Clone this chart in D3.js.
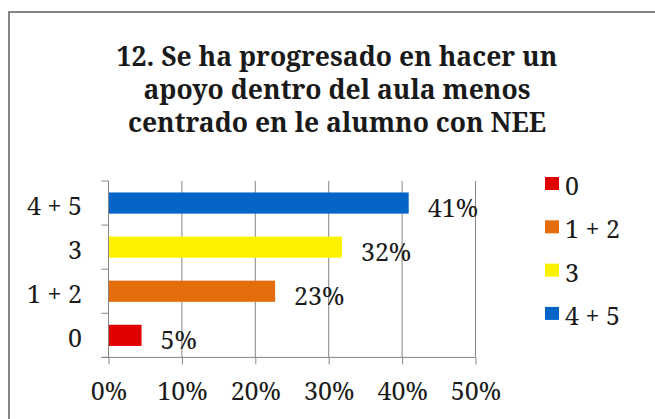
<!DOCTYPE html>
<html>
<head>
<meta charset="utf-8">
<script src="https://cdn.jsdelivr.net/npm/d3@7"></script>
<style>
  html, body { margin: 0; padding: 0; background: #fff; overflow: hidden; }
  svg { display: block; }
</style>
</head>
<body>
<svg id="chart" width="655" height="419" font-family="Noto Serif"></svg>
<script>
var titleLines = ["12. Se ha progresado en hacer un", "apoyo dentro del aula menos", "centrado en le alumno con NEE"];
var categories = ["0", "1 + 2", "3", "4 + 5"];
var values = [4.5, 22.7, 31.8, 40.9];
var valueLabels = ["5%", "23%", "32%", "41%"];
var colors = ["#e00000", "#e46c0a", "#fff200", "#0564c8"];
var xTicks = [0, 10, 20, 30, 40, 50];

var FONT = "Noto Serif",
  TEXT_COLOR = "#1a1a1a",
  LINE_COLOR = "#868686",
  labelSize = 25;

var svg = d3.select("#chart"),
  margin = {top: 181, left: 108.5, right: 179.5, bottom: 61.6},
  innerWidth = 655 - margin.left - margin.right,
  innerHeight = 419 - margin.top - margin.bottom;

// outer frame: only the top and left edges show in the picture
svg.append("line")
  .attr("x1", 8).attr("x2", 655)
  .attr("y1", 12).attr("y2", 12)
  .attr("stroke", "#858585")
  .attr("stroke-width", 2);
svg.append("line")
  .attr("x1", 9).attr("x2", 9)
  .attr("y1", 11).attr("y2", 419)
  .attr("stroke", "#858585")
  .attr("stroke-width", 2);

var title = svg.append("text")
  .attr("text-anchor", "middle")
  .attr("font-family", FONT)
  .attr("font-weight", "bold")
  .attr("font-size", 26)
  .attr("fill", TEXT_COLOR);
title.selectAll("tspan")
  .data(titleLines)
  .enter()
  .append("tspan")
    .attr("x", 337)
    .attr("y", function(d, i) { return 66 + i * 33; })
    .text(function(d) { return d; });
// scale title so the first line is as wide as in the original
var firstW = title.select("tspan").node().getComputedTextLength();
title.attr("font-size", 26 * 441 / firstW);

var x = d3.scaleLinear()
  .domain([0, 50])
  .range([0, innerWidth]);

var y = d3.scaleBand()
  .domain(categories.slice().reverse())
  .range([0, innerHeight])
  .paddingInner(0.52)
  .paddingOuter(0.26);

var g = svg.append("g")
  .attr("transform", "translate(" + margin.left + "," + margin.top + ")");

// gridlines
g.append("g")
  .selectAll("line")
  .data(xTicks.slice(1))
  .enter()
  .append("line")
    .attr("x1", x)
    .attr("x2", x)
    .attr("y1", 0)
    .attr("y2", innerHeight)
    .attr("stroke", LINE_COLOR)
    .attr("stroke-width", 1);

g.append("g")
  .selectAll("rect")
  .data(values)
  .enter()
  .append("rect")
    .attr("x", 0)
    .attr("y", function(d, i) { return y(categories[i]); })
    .attr("width", function(d) { return x(d); })
    .attr("height", y.bandwidth())
    .attr("fill", function(d, i) { return colors[i]; });

g.append("g")
  .selectAll("text")
  .data(values)
  .enter()
  .append("text")
    .attr("x", function(d) { return x(d) + 19; })
    .attr("y", function(d, i) { return y(categories[i]) + y.bandwidth() / 2 + 13.5; })
    .attr("font-family", FONT)
    .attr("font-size", labelSize)
    .attr("fill", TEXT_COLOR)
    .text(function(d, i) { return valueLabels[i]; });

// y axis
var yAxisBand = d3.scaleBand()
  .domain(categories.slice().reverse())
  .range([0, innerHeight]);

var yAxis = g.append("g");
yAxis.append("line")
  .attr("x1", 0).attr("x2", 0)
  .attr("y1", 0).attr("y2", innerHeight)
  .attr("stroke", LINE_COLOR);
yAxis.selectAll(".tick")
  .data([0].concat(categories.slice().reverse().map(function(c) { return yAxisBand(c) + yAxisBand.bandwidth(); })))
  .enter()
  .append("line")
    .attr("x1", -7).attr("x2", 0)
    .attr("y1", function(d) { return d; })
    .attr("y2", function(d) { return d; })
    .attr("stroke", LINE_COLOR);
yAxis.selectAll("text")
  .data(categories)
  .enter()
  .append("text")
    .attr("x", -26.5)
    .attr("y", function(d) { return yAxisBand(d) + yAxisBand.bandwidth() / 2 + 11.5; })
    .attr("text-anchor", "end")
    .attr("font-family", FONT)
    .attr("font-size", labelSize)
    .attr("fill", TEXT_COLOR)
    .text(function(d) { return d; });

// x axis
var xAxis = g.append("g")
  .attr("transform", "translate(0," + innerHeight + ")")
  .call(d3.axisBottom(x)
    .tickValues(xTicks)
    .tickSize(7)
    .tickPadding(18)
    .tickFormat(function(d) { return d + "%"; }));
xAxis.attr("font-family", FONT).attr("font-size", labelSize);
xAxis.select(".domain").attr("stroke", LINE_COLOR).attr("d", "M-7,0H" + innerWidth);
xAxis.selectAll(".tick line").attr("stroke", LINE_COLOR);
xAxis.selectAll(".tick text")
  .attr("dy", null)
  .attr("y", 43)
  .attr("fill", TEXT_COLOR);

// legend
var legend = svg.append("g")
  .attr("transform", "translate(545,177)");
var items = legend.selectAll("g")
  .data(categories)
  .enter()
  .append("g")
    .attr("transform", function(d, i) { return "translate(0," + i * 43.3 + ")"; });
items.append("rect")
  .attr("width", 14)
  .attr("height", 13)
  .attr("fill", function(d, i) { return colors[i]; });
items.append("text")
  .attr("x", 20)
  .attr("y", 18)
  .attr("font-family", FONT)
  .attr("font-size", labelSize)
  .attr("fill", TEXT_COLOR)
  .text(function(d) { return d; });
</script>
</body>
</html>
